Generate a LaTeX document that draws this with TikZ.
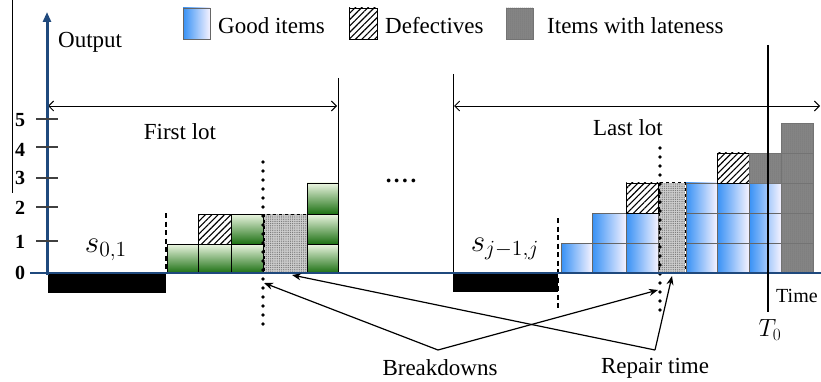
\documentclass[tikz,border=0pt]{standalone}
\usepackage{fontspec}
\setmainfont{Liberation Serif}
\usetikzlibrary{arrows.meta,patterns.meta}

\definecolor{axisblue}{RGB}{31,73,125}
\definecolor{gtop}{RGB}{236,246,226}
\definecolor{gmid}{RGB}{150,200,110}
\definecolor{gbot}{RGB}{28,112,18}
\definecolor{bleft}{RGB}{55,145,245}
\definecolor{bright}{RGB}{245,242,255}
\definecolor{lategray}{RGB}{135,135,135}
\definecolor{repairgray}{RGB}{205,205,205}

\tikzset{
  goodg/.style={draw=black, line width=0.7pt, top color=gtop, middle color=gmid, bottom color=gbot},
  goodb/.style={draw=black!60, line width=0.7pt, left color=bleft, right color=bright},
  defect/.style={draw=black, line width=0.7pt, preaction={fill=white},
    preaction={pattern={Lines[angle=45,distance=4.5pt,line width=1.1pt]}, pattern color=black}},
  late/.style={draw=black!55, line width=0.7pt, preaction={fill=lategray},
    preaction={pattern={Dots[distance=2pt,radius=0.5pt]}, pattern color=black!60}},
  repair/.style={draw=black, dashed, line width=1pt, preaction={fill=repairgray},
    preaction={pattern={Dots[distance=2.2pt,radius=0.65pt]}, pattern color=black!55}},
  setup/.style={fill=black},
  txt/.style={font=\fontsize{23}{27}\selectfont, inner sep=0pt},
  mathlbl/.style={font=\fontsize{20}{24}\selectfont, inner sep=0pt, scale=1.5},
  ticklbl/.style={font=\fontsize{20}{24}\selectfont\bfseries, inner sep=0pt},
  tickmark/.style={draw=black!75, line width=1.2pt},
  lotline/.style={draw=black, line width=0.9pt},
  span/.style={draw=black, line width=0.9pt, {Straight Barb[length=5pt,width=10pt]}-{Straight Barb[length=5pt,width=10pt]}},
  dotline/.style={line width=3.8pt, dash pattern=on 0pt off 9pt, line cap=round},
  startline/.style={line width=1.3pt, dash pattern=on 5pt off 3.5pt},
  pointer/.style={draw=black, line width=1.2pt, -{Stealth[length=9pt,width=7pt]}},
}

\begin{document}
\begin{tikzpicture}[x=1pt,y=-1pt]
\useasboundingbox (0,0) rectangle (821,382);

% thin frame line at the left
\draw[black, line width=0.8pt] (12,0) -- (12,193);

% legend
\draw[goodb] (183,8) rectangle (210,39);
\node[txt, anchor=west] (lgood) at (218,26) {Good items};
\draw[defect] (349,8) rectangle (377,39);
\node[txt, anchor=west] (ldef) at (385,26) {Defectives};
\draw[late] (506,8) rectangle (533,39);
\node[txt, anchor=west] (llate) at (547,26) {Items with lateness};

\node[txt, anchor=west] (out) at (58,42) {Output};

% lot boundaries and spans
\draw[lotline] (338,78) -- (338,273);
\draw[lotline] (453,74) -- (453,273);
\draw[span] (48,106) -- (337,106);
\draw[span] (454,106) -- (820,106);
\node[txt] (first) at (180,132) {First lot};
\node[txt] (last) at (628,128) {Last lot};
\node[txt, font=\fontsize{23}{27}\selectfont\bfseries] (dots) at (401,181) {.\kern2.5pt.\kern2.5pt.\kern2.5pt.};

% set-up times
\fill[setup] (48,273) rectangle (166,293);
\fill[setup] (453,273) rectangle (558,292);
\node[mathlbl] (s01) at (106,250) {$s_{0,1}$};
\node[mathlbl] (sj) at (505,249) {$s_{j-1,j}$};
\draw[startline] (166,213) -- (166,273);
\draw[startline] (558,218) -- (558,310);

% first lot items
\draw[goodg] (167,244) rectangle (198,273);
\draw[goodg] (198,244) rectangle (231,273);
\draw[defect] (198,214) rectangle (231,244);
\draw[goodg] (231,244) rectangle (263,273);
\draw[goodg] (231,214) rectangle (263,244);
\draw[repair] (264,214) rectangle (307,273);
\draw[goodg] (307,244) rectangle (338,273);
\draw[goodg] (307,214) rectangle (338,244);
\draw[goodg] (307,183) rectangle (338,214);

% last lot items
\draw[goodb] (561,243) rectangle (592,273);
\foreach \y in {243,213} \draw[goodb] (592,\y) rectangle (626,\y+30);
\foreach \y in {243,213} \draw[goodb] (626,\y) rectangle (658,\y+30);
\draw[defect] (626,183) rectangle (658,213);
\draw[repair] (659,183) rectangle (685,273);
\foreach \y in {243,213,183} \draw[goodb] (686,\y) rectangle (717,\y+30);
\foreach \y in {243,213,183} \draw[goodb] (717,\y) rectangle (749,\y+30);
\draw[defect] (717,153) rectangle (749,183);
\foreach \y in {243,213,183} \draw[goodb] (749,\y) rectangle (781,\y+30);
\draw[late] (749,153) rectangle (781,183);
\foreach \y in {243,213,183,153,123} \draw[late] (781,\y) rectangle (813,\y+30);

% breakdown instants
\draw[dotline] (263,162) -- (263,328);
\draw[dotline] (660,148) -- (660,314);

% axes
\draw[axisblue, line width=2.5pt] (30,273) -- (821,273);
\draw[axisblue, line width=3pt, -{Triangle[length=10pt,width=8pt]}] (47,275) -- (47,12);
\foreach \y in {241,207,178,147,119} \draw[tickmark] (36,\y) -- (58,\y);
\node[ticklbl] (t0) at (20,273) {0};
\node[ticklbl] (t1) at (20,242) {1};
\node[ticklbl] (t2) at (20,208) {2};
\node[ticklbl] (t3) at (20,178) {3};
\node[ticklbl] (t4) at (20,150) {4};
\node[ticklbl] (t5) at (20,120) {5};

% horizon T0
\draw[black, line width=2.2pt] (768,45) -- (768,312);
\node[txt, font=\fontsize{20}{24}\selectfont, anchor=west] (time) at (776,296) {Time};
\node[inner sep=0pt, font=\fontsize{26}{30}\selectfont] (T0) at (770,330) {$T_0$};

% callouts
\node[txt] (brk) at (440,368) {Breakdowns};
\node[txt] (rep) at (655,368) {Repair time};
\coordinate (brkfrom) at (438,350);
\coordinate (repfrom) at (655,350);
\coordinate (brkA) at (264,283);
\coordinate (brkB) at (658,290);
\coordinate (repA) at (292,275);
\coordinate (repB) at (672,276);
\draw[pointer] (brkfrom) -- (brkA);
\draw[pointer] (brkfrom) -- (brkB);
\draw[pointer] (repfrom) -- (repA);
\draw[pointer] (repfrom) -- (repB);
\end{tikzpicture}
\end{document}
